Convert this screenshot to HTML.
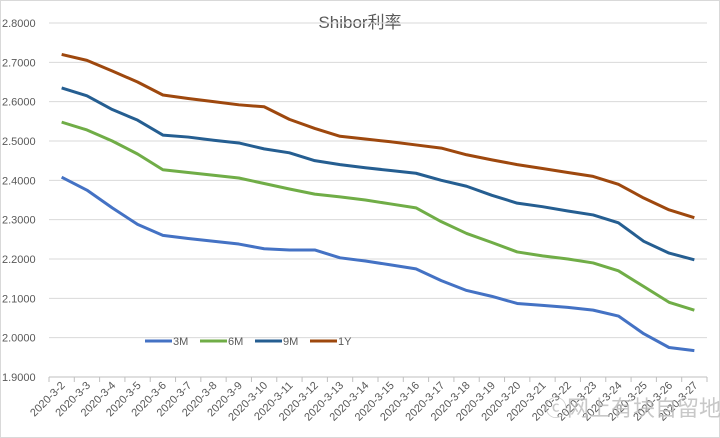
<!DOCTYPE html>
<html><head><meta charset="utf-8"><style>
body{margin:0;background:#fff;width:720px;height:438px;overflow:hidden}
svg{display:block;font-family:"Liberation Sans","Noto Sans CJK SC",sans-serif}
</style></head><body>
<svg id="c" width="720" height="438">
<rect x="0.5" y="0.5" width="719" height="437" fill="#fff" stroke="#d9d9d9"/>
<text x="360" y="28" text-anchor="middle" font-size="17" fill="#595959">Shibor利率</text>
<g id="grid"></g><g id="yl"></g><g id="xl"></g><g id="lines"></g><g id="legend"></g>
<text x="545" y="416" font-size="22" fill="#bbb" opacity="0.8">ⓒ网上有块自留地</text>
</svg>
<script>
const categories=["2020-3-2","2020-3-3","2020-3-4","2020-3-5","2020-3-6","2020-3-7","2020-3-8","2020-3-9","2020-3-10","2020-3-11","2020-3-12","2020-3-13","2020-3-14","2020-3-15","2020-3-16","2020-3-17","2020-3-18","2020-3-19","2020-3-20","2020-3-21","2020-3-22","2020-3-23","2020-3-24","2020-3-25","2020-3-26","2020-3-27"];
const s3M=[2.408,2.375,2.33,2.288,2.26,2.252,2.245,2.238,2.226,2.223,2.223,2.203,2.195,2.185,2.175,2.145,2.12,2.105,2.087,2.082,2.077,2.07,2.055,2.01,1.975,1.967];
const s6M=[2.548,2.528,2.5,2.467,2.427,2.42,2.413,2.406,2.392,2.378,2.365,2.358,2.35,2.34,2.33,2.295,2.265,2.242,2.218,2.208,2.2,2.19,2.17,2.13,2.09,2.07];
const s9M=[2.635,2.615,2.58,2.553,2.515,2.51,2.502,2.495,2.48,2.47,2.45,2.44,2.432,2.425,2.418,2.4,2.385,2.362,2.342,2.333,2.322,2.312,2.292,2.245,2.215,2.198];
const s1Y=[2.72,2.705,2.678,2.65,2.617,2.608,2.6,2.592,2.587,2.555,2.532,2.512,2.505,2.498,2.49,2.482,2.465,2.452,2.44,2.43,2.42,2.41,2.39,2.355,2.325,2.305];
const yTicks=["1.9000","2.0000","2.1000","2.2000","2.3000","2.4000","2.5000","2.6000","2.7000","2.8000"];
const series=[["3M",s3M,"#4472c4"],["6M",s6M,"#70ad47"],["9M",s9M,"#255e91"],["1Y",s1Y,"#9e480e"]];
const NS="http://www.w3.org/2000/svg";
const x0=49,x1=707,y0=377,y1=23,ymin=1.9,ymax=2.8;
const step=(x1-x0)/categories.length;
const X=i=>x0+step*(i+0.5);
const Y=v=>y0-(v-ymin)/(ymax-ymin)*(y0-y1);
function mk(t,a,p){const e=document.createElementNS(NS,t);for(const k in a)e.setAttribute(k,a[k]);document.getElementById(p).appendChild(e);return e;}
yTicks.forEach(t=>{const v=parseFloat(t),y=Y(v);
 const l=mk("line",{x1:x0,x2:x1,y1:y,y2:y,stroke:v==ymin?"#bfbfbf":"#d9d9d9","stroke-width":1},"grid");
 
 
 const tx=mk("text",{x:2,y:y+4,"font-size":11,fill:"#595959"},"yl");tx.textContent=t;
 
 
});
for(let i=0;i<=categories.length;i++){const x=x0+step*i;
 const t=mk("line",{x1:x,x2:x,y1:y0,y2:y0+5,stroke:"#bfbfbf"},"grid");
 
 }
categories.forEach((c,i)=>{const x=X(i)+4,y=y0+9;
 const t=mk("text",{x:x,y:y,"font-size":11,fill:"#595959","text-anchor":"end",transform:`rotate(-45 ${x} ${y})`},"xl");t.textContent=c;
 
 });
series.forEach(([n,d,col],k)=>{
 const p=mk("polyline",{points:d.map((v,i)=>X(i)+","+Y(v)).join(" "),fill:"none",stroke:col,"stroke-width":3,"stroke-linejoin":"round"},"lines");
 
 
 const lx=145+k*55;
 const g=mk("g",{},"legend");
 
 
 const l=document.createElementNS(NS,"line");
 l.setAttribute("x1",lx);l.setAttribute("x2",lx+27);l.setAttribute("y1",341);l.setAttribute("y2",341);l.setAttribute("stroke",col);l.setAttribute("stroke-width",3);g.appendChild(l);
 const t=document.createElementNS(NS,"text");t.setAttribute("x",lx+28);t.setAttribute("y",345);t.setAttribute("font-size",11);t.setAttribute("fill","#595959");t.textContent=n;g.appendChild(t);
});
</script>
</body></html>
